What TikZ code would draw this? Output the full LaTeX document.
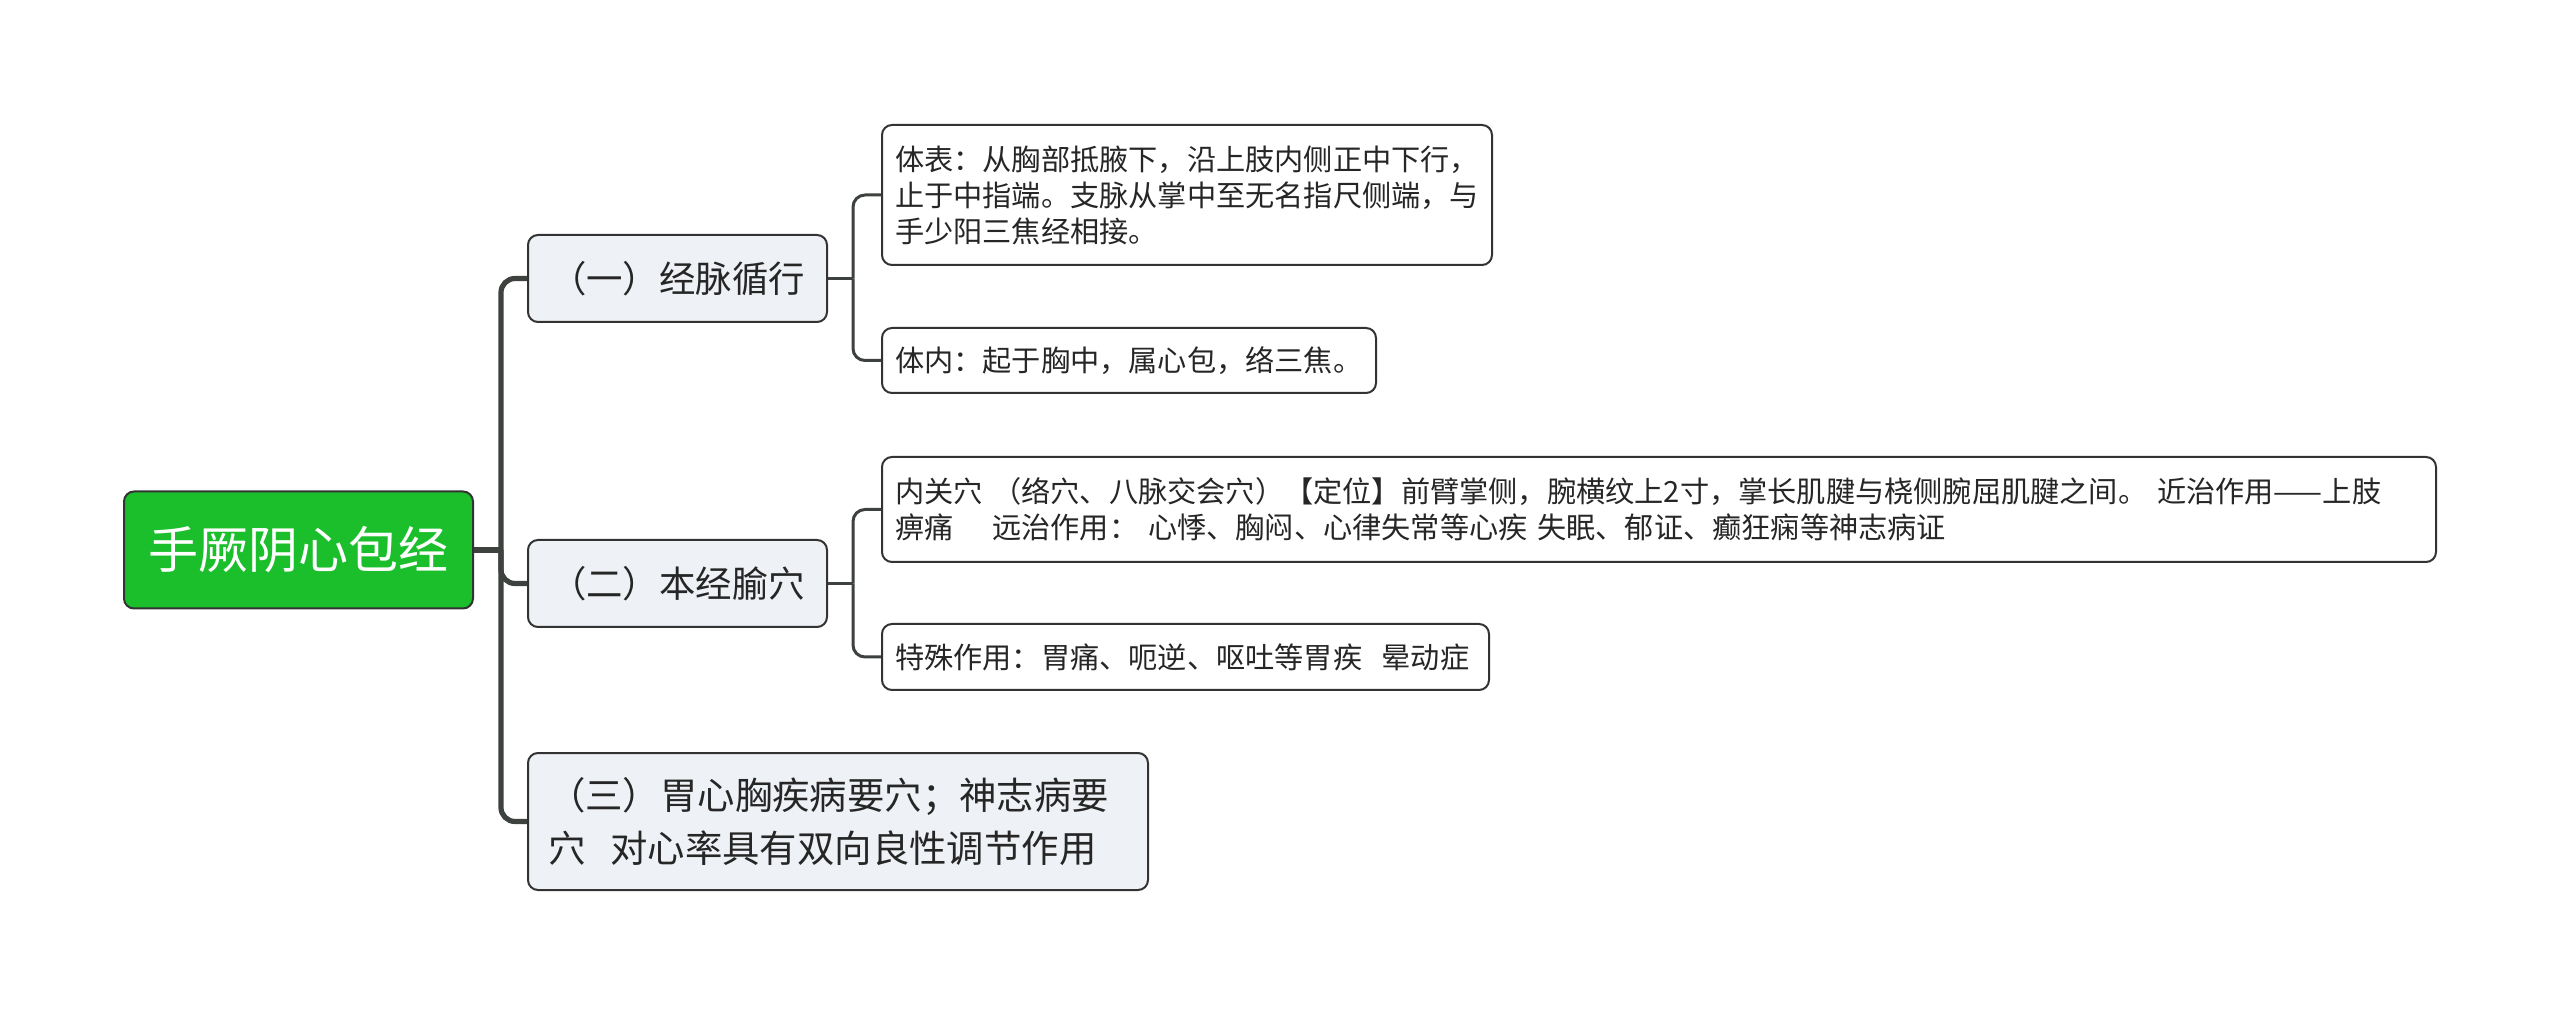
\documentclass[tikz,border=0pt]{standalone}
\usepackage{fontspec}
\setmainfont{Noto Sans CJK SC}
\definecolor{rootgreen}{HTML}{1BBF2B}
\definecolor{lvlone}{HTML}{EEF1F5}
\definecolor{edgecol}{HTML}{3E423E}
\definecolor{bordcol}{HTML}{333333}
\tikzset{
  rootbox/.style={draw=bordcol, line width=1pt, rounded corners=5pt, fill=rootgreen, text=white,
    minimum width=174.5pt, minimum height=58.5pt, inner sep=0pt, font=\fontsize{25pt}{29pt}\selectfont},
  onebox/.style={draw=bordcol, line width=1pt, rounded corners=5pt, fill=lvlone, text=black!85,
    minimum width=149.5pt, minimum height=43.5pt, inner sep=0pt, font=\fontsize{18.2pt}{26.5pt}\selectfont},
  threebox/.style={draw=bordcol, line width=1pt, rounded corners=5pt, fill=lvlone, text=black!85,
    text width=290pt, inner xsep=10pt, inner ysep=0pt, minimum height=68.5pt, align=left,
    font=\fontsize{18.7pt}{26.5pt}\selectfont},
  twobox/.style={draw=bordcol, line width=1pt, rounded corners=5pt, fill=white, text=black!85,
    inner xsep=6.5pt, inner ysep=0pt, align=left, font=\fontsize{14.6pt}{18pt}\selectfont},
  trunk/.style={draw=edgecol, line width=2.6pt, rounded corners=7pt},
  twig/.style={draw=edgecol, line width=1.5pt, rounded corners=6pt}
}
\begin{document}
\begin{tikzpicture}[x=0.5pt,y=-0.5pt]
\useasboundingbox[fill=white] (0,0) rectangle (2560,1015);
\node[rootbox] (root) at (298.5,550) {手厥阴心包经};
\node[onebox] (n1) at (677.5,278.5) {（一）经脉循行};
\node[onebox] (n2) at (677.5,583.5) {（二）本经腧穴};
\node[threebox] (n3) at (838,821.5) {（三）胃心胸疾病要穴；神志病要\\穴\ \ 对心率具有双向良性调节作用};
\node[twobox, text width=292pt, minimum height=70pt] (a1) at (1187,195) {体表：从胸部抵腋下，沿上肢内侧正中下行，\\止于中指端。支脉从掌中至无名指尺侧端，与\\手少阳三焦经相接。};
\node[twobox, text width=234pt, minimum height=32.5pt] (a2) at (1129,360.5) {体内：起于胸中，属心包，络三焦。};
\node[twobox, text width=764pt, minimum height=52.5pt] (b1) at (1659,509.5) {内关穴 （络穴、八脉交会穴）【定位】前臂掌侧，腕横纹上2寸，掌长肌腱与桡侧腕屈肌腱之间。 近治作用——上肢\\痹痛\ \ \ \  远治作用： 心悸、胸闷、心律失常等心疾 失眠、郁证、癫狂痫等神志病证};
\node[twobox, text width=290.5pt, minimum height=33pt] (b2) at (1185.5,657) {特殊作用：胃痛、呃逆、呕吐等胃疾\ \ 晕动症};
\coordinate (j0) at (501,550);
\coordinate (j1) at (853,278.5);
\coordinate (j2) at (853,583.5);
\draw[trunk] (root.east) -- (j0);
\draw[trunk] (j0) |- (n1.west);
\draw[trunk] (j0) |- (n2.west);
\draw[trunk] (j0) |- (n3.west);
\draw[twig] (n1.east) -- (j1);
\draw[twig] (j1) |- (a1.west);
\draw[twig] (j1) |- (a2.west);
\draw[twig] (n2.east) -- (j2);
\draw[twig] (j2) |- (b1.west);
\draw[twig] (j2) |- (b2.west);
\end{tikzpicture}
\end{document}
